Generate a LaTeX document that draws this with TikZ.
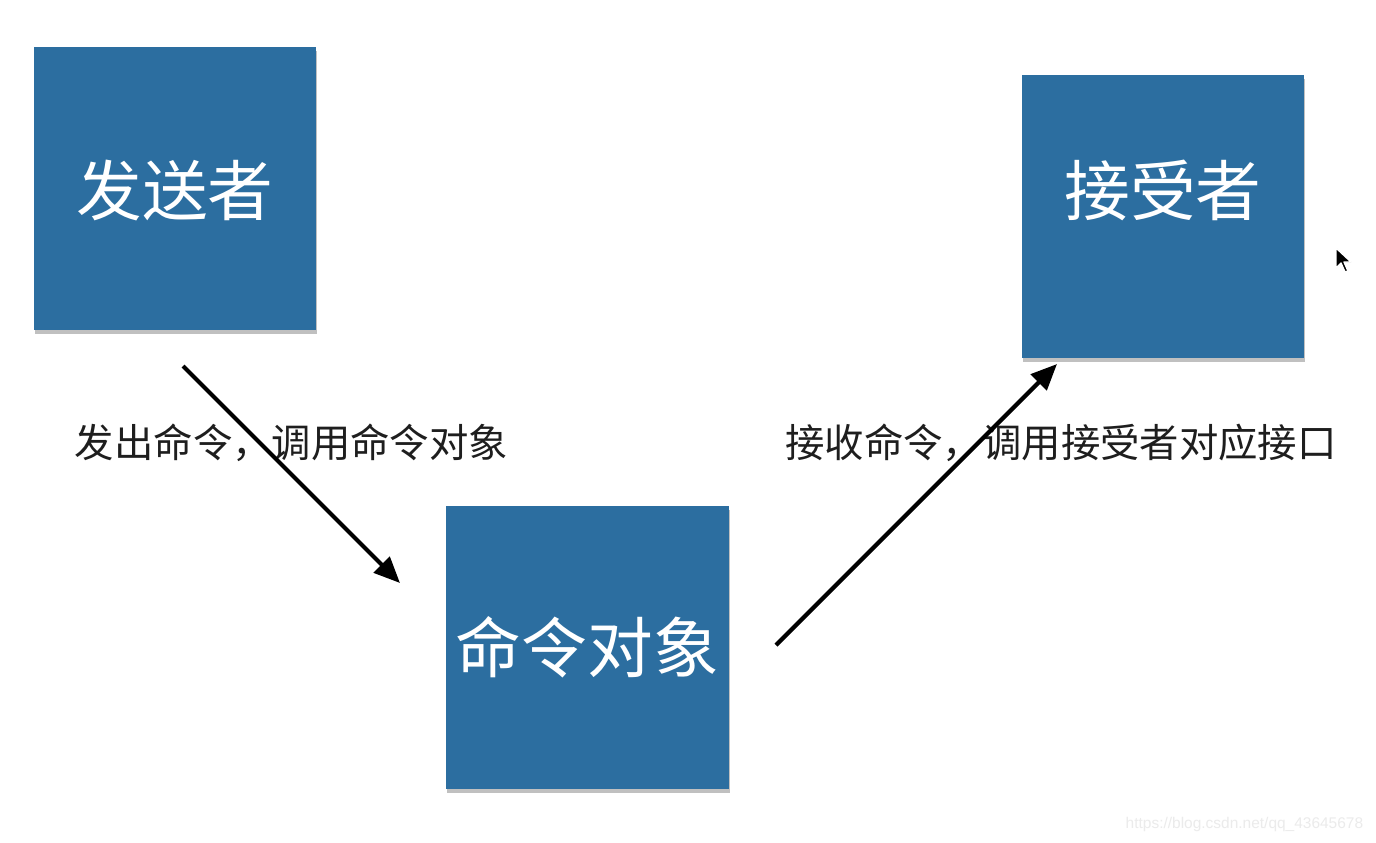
\documentclass[tikz,border=0pt]{standalone}
\usepackage{fontspec}
\setsansfont{Liberation Sans}
\newfontfamily\cjk{Noto Sans CJK SC}
\usetikzlibrary{arrows.meta,shadows}
\definecolor{boxblue}{RGB}{44,110,160}
\definecolor{inkgray}{RGB}{30,30,30}

\begin{document}
\begin{tikzpicture}[x=0.01cm, y=-0.01cm,
  box/.style={rectangle, fill=boxblue, minimum width=2.82cm, minimum height=2.83cm, inner sep=0,
    drop shadow={shadow xshift=0.01cm, shadow yshift=-0.04cm, opacity=.35, fill=black!70}},
  boxtext/.style={text=white, font=\cjk\fontsize{18.7pt}{20pt}\selectfont, inner sep=0},
  msg/.style={text=inkgray, font=\cjk\fontsize{11.2pt}{13pt}\selectfont, inner sep=0},
  arr/.style={line width=1.2pt, black, -{Triangle[length=0.26cm, width=0.22cm]}}]

\useasboundingbox[fill=white] (0,0) rectangle (1376,842);

\node[box] (sender) at (175,188.5) {};
\node[boxtext] (sendertext) at ([yshift=-0.02cm]sender.center) {发送者};

\node[box] (recv) at (1163,216.5) {};
\node[boxtext] (recvtext) at ([yshift=0.26cm]recv.center) {接受者};

\node[box] (cmd) at (587.5,647.5) {};
\node[boxtext] (cmdtext) at (cmd.center) {命令对象};

\node[msg] (sendmsg) at (291.5,443) {发出命令，调用命令对象};
\node[msg] (recvmsg) at (1061,443) {接收命令，调用接受者对应接口};

\coordinate (a1) at (183,366);
\coordinate (b1) at (400,583);
\draw[arr] (a1) -- (b1);

\coordinate (a2) at (776,645);
\coordinate (b2) at (1057,364);
\draw[arr] (a2) -- (b2);

\draw[fill=black, draw=white, line width=0.4pt, line join=round]
  (1336,248) -- (1336,268) -- (1341,263) -- (1345,272) -- (1348,271) -- (1344,262) -- (1351,262) -- cycle;

\node[text=black!8, font=\sffamily\fontsize{4.4pt}{5pt}\selectfont, inner sep=0, anchor=west] (mark) at (1125,824) {https://blog.csdn.net/qq\_43645678};

\end{tikzpicture}
\end{document}
